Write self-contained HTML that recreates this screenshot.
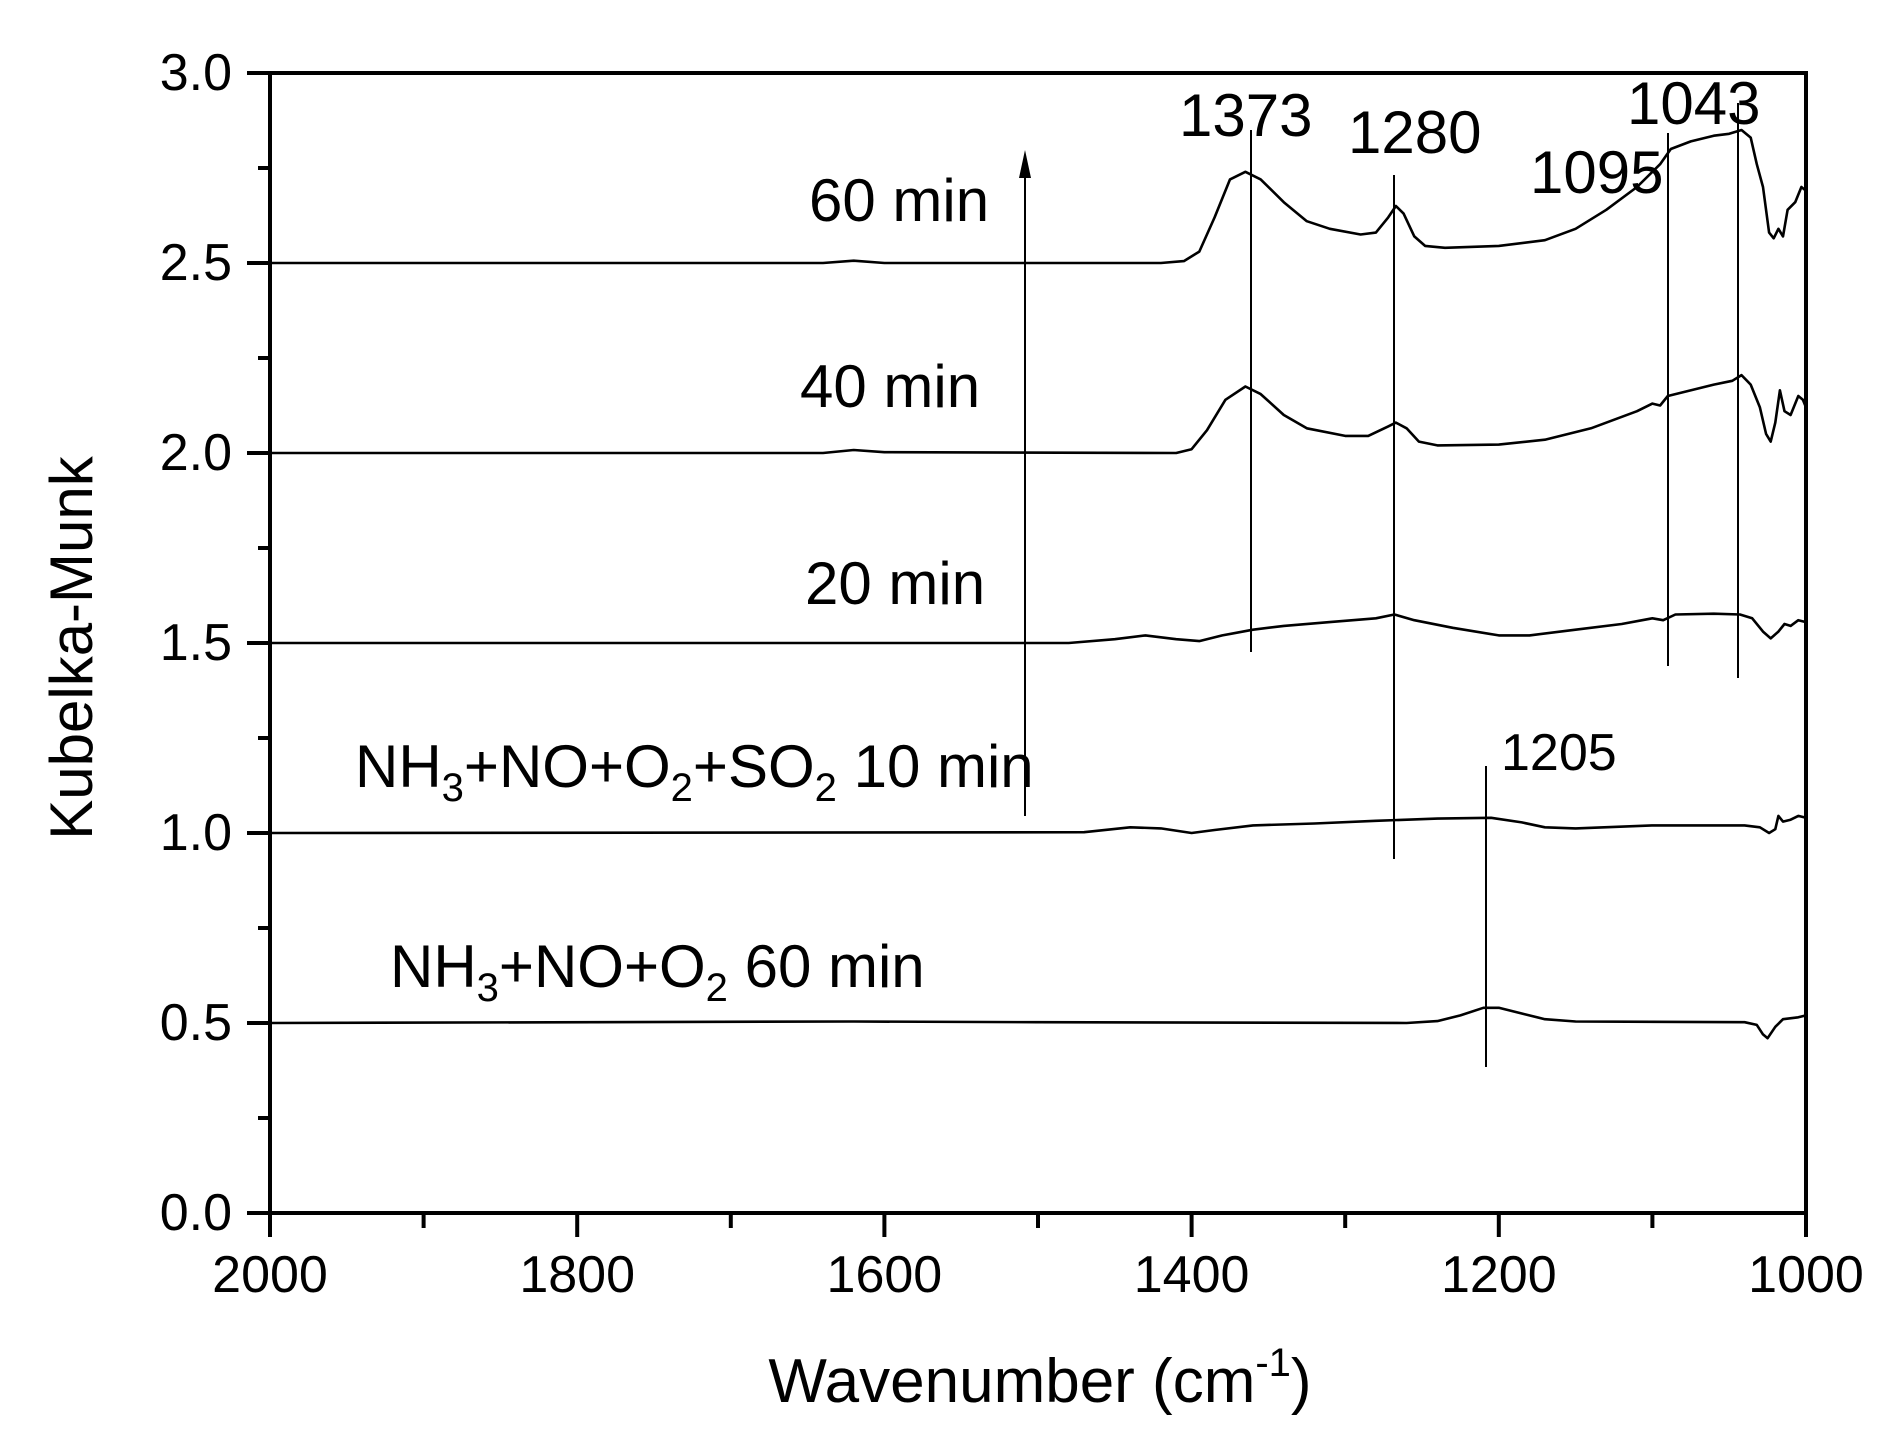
<!DOCTYPE html>
<html><head><meta charset="utf-8"><style>
html,body{margin:0;padding:0;background:#fff;}
svg{display:block;font-family:"Liberation Sans",Arial,sans-serif;}
</style></head><body>
<svg id="s" width="1888" height="1446" viewBox="0 0 1888 1446" xmlns="http://www.w3.org/2000/svg">
<rect width="1888" height="1446" fill="#fff"/>
<g id="curves" fill="none" stroke="#000" stroke-width="2.6" stroke-linejoin="round"></g>
<g stroke="#000" stroke-width="2">
<line x1="1251" y1="130" x2="1251" y2="652"/>
<line x1="1394" y1="175" x2="1394" y2="859"/>
<line x1="1668" y1="133" x2="1668" y2="666"/>
<line x1="1738" y1="103" x2="1738" y2="678"/>
<line x1="1486" y1="766" x2="1486" y2="1067"/>
<line x1="1025" y1="816" x2="1025" y2="170"/>
</g>
<polygon points="1025,150 1019,178 1031,178" fill="#000"/>
<g stroke="#000" stroke-width="4" fill="none" id="axes">
<rect x="270" y="73" width="1536" height="1140"/>
</g>
<g id="ticks" stroke="#000" stroke-width="4"></g>
<g font-size="52" fill="#000" id="labels"></g>
<g font-size="60" fill="#000">
<text x="1179" y="136">1373</text>
<text x="1348" y="153">1280</text>
<text x="1530" y="193">1095</text>
<text x="1627" y="124">1043</text>
<text x="1501" y="770" font-size="52">1205</text>
<text x="809" y="221">60 min</text>
<text x="800" y="407">40 min</text>
<text x="805" y="604">20 min</text>
<text x="355" y="787">NH<tspan font-size="40" dy="14">3</tspan><tspan dy="-14">+NO+O</tspan><tspan font-size="40" dy="14">2</tspan><tspan dy="-14">+SO</tspan><tspan font-size="40" dy="14">2</tspan><tspan dy="-14"> 10 min</tspan></text>
<text x="390" y="987">NH<tspan font-size="40" dy="14">3</tspan><tspan dy="-14">+NO+O</tspan><tspan font-size="40" dy="14">2</tspan><tspan dy="-14"> 60 min</tspan></text>
<text x="1040" y="1402" font-size="62" text-anchor="middle">Wavenumber (cm<tspan font-size="40" dy="-26">-1</tspan><tspan dy="26">)</tspan></text>
<text transform="translate(92,648) rotate(-90)" text-anchor="middle" font-size="60">Kubelka-Munk</text>
</g>
</svg>
<script>
var X=function(w){return 270+(2000-w)*1.536;};
var Y=function(v){return 1213-v*380;};
var NS="http://www.w3.org/2000/svg";
var series=[
[[2000,2.5],[1640,2.5],[1620,2.506],[1600,2.5],[1420,2.5],[1405,2.505],[1395,2.53],[1385,2.62],[1375,2.72],[1365,2.74],[1355,2.72],[1340,2.66],[1325,2.61],[1310,2.59],[1290,2.575],[1280,2.58],[1272,2.62],[1267,2.65],[1262,2.63],[1255,2.57],[1248,2.545],[1235,2.54],[1200,2.545],[1170,2.56],[1150,2.59],[1130,2.64],[1110,2.70],[1095,2.76],[1088,2.80],[1075,2.82],[1060,2.835],[1050,2.84],[1042,2.85],[1036,2.83],[1032,2.76],[1028,2.70],[1024,2.58],[1021,2.565],[1018,2.59],[1015,2.57],[1012,2.64],[1007,2.66],[1003,2.70],[1000,2.69]],
[[2000,2.0],[1640,2.0],[1620,2.008],[1600,2.002],[1410,2.0],[1400,2.01],[1390,2.06],[1378,2.14],[1365,2.175],[1355,2.155],[1340,2.10],[1325,2.065],[1300,2.045],[1285,2.045],[1272,2.07],[1267,2.08],[1260,2.065],[1252,2.03],[1240,2.02],[1200,2.022],[1170,2.035],[1140,2.065],[1110,2.11],[1100,2.13],[1095,2.125],[1090,2.15],[1060,2.18],[1048,2.19],[1042,2.205],[1036,2.18],[1030,2.12],[1026,2.05],[1023,2.03],[1020,2.08],[1017,2.165],[1014,2.11],[1010,2.10],[1005,2.15],[1002,2.14],[1000,2.12]],
[[2000,1.5],[1480,1.5],[1450,1.51],[1430,1.52],[1410,1.51],[1395,1.505],[1380,1.52],[1360,1.535],[1340,1.545],[1310,1.555],[1280,1.565],[1268,1.575],[1255,1.56],[1230,1.54],[1200,1.52],[1180,1.52],[1150,1.535],[1120,1.55],[1100,1.565],[1093,1.56],[1085,1.575],[1060,1.577],[1043,1.575],[1035,1.565],[1028,1.53],[1023,1.512],[1018,1.53],[1014,1.55],[1010,1.545],[1005,1.56],[1000,1.555]],
[[2000,1.0],[1470,1.002],[1440,1.015],[1420,1.012],[1400,1.0],[1385,1.008],[1360,1.02],[1320,1.025],[1280,1.032],[1240,1.038],[1205,1.04],[1185,1.028],[1170,1.015],[1150,1.012],[1100,1.02],[1060,1.02],[1040,1.02],[1030,1.015],[1024,1.0],[1020,1.01],[1018,1.045],[1015,1.03],[1010,1.035],[1005,1.045],[1000,1.04]],
[[2000,0.5],[1620,0.504],[1500,0.502],[1260,0.5],[1240,0.505],[1225,0.52],[1210,0.54],[1200,0.54],[1185,0.525],[1170,0.51],[1150,0.504],[1040,0.502],[1032,0.495],[1028,0.47],[1025,0.46],[1020,0.49],[1015,0.51],[1005,0.515],[1000,0.52]]
];
var g=document.getElementById("curves");
series.forEach(function(s){
 var p=document.createElementNS(NS,"polyline");
 p.setAttribute("points",s.map(function(q){return X(q[0]).toFixed(1)+","+Y(q[1]).toFixed(1);}).join(" "));
 g.appendChild(p);
});
var t=document.getElementById("ticks"),L=document.getElementById("labels");
function line(x1,y1,x2,y2){var l=document.createElementNS(NS,"line");l.setAttribute("x1",x1);l.setAttribute("y1",y1);l.setAttribute("x2",x2);l.setAttribute("y2",y2);t.appendChild(l);}
function txt(x,y,s,a){var e=document.createElementNS(NS,"text");e.setAttribute("x",x);e.setAttribute("y",y);e.setAttribute("text-anchor",a);e.textContent=s;L.appendChild(e);}
for(var i=0;i<=12;i++){var y=1213-i*95;var maj=i%2==0;line(270,y,maj?247:258,y);if(maj)txt(232,y+17,(i/4).toFixed(1),"end");}
for(var i=0;i<=10;i++){var x=270+i*153.6;var maj=i%2==0;line(x,1213,x,maj?1237:1228);if(maj)txt(x,1292,String(2000-i*100),"middle");}
</script>
</body></html>
